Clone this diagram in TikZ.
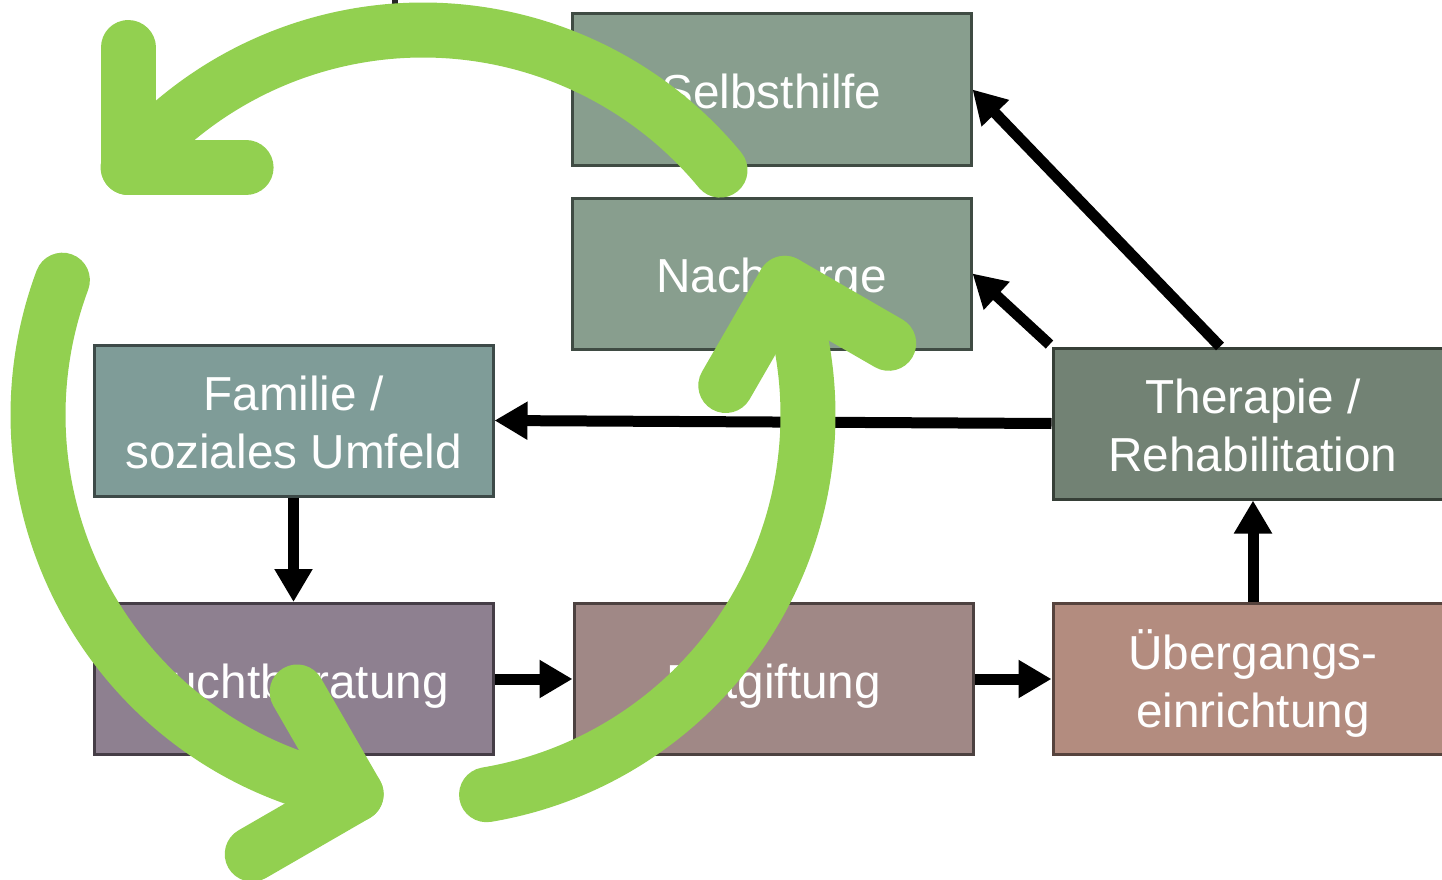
\documentclass[tikz,border=0pt]{standalone}
\usepackage{fontspec}
\setmainfont{Liberation Sans}
\usetikzlibrary{arrows.meta,calc}

\definecolor{cycgreen}{HTML}{92D050}
\definecolor{fillSelb}{HTML}{889E8E}\definecolor{lineSelb}{HTML}{3F4B43}
\definecolor{fillFam}{HTML}{7F9C98}\definecolor{lineFam}{HTML}{3D4A48}
\definecolor{fillTher}{HTML}{728274}\definecolor{lineTher}{HTML}{363F37}
\definecolor{fillSucht}{HTML}{8E8090}\definecolor{lineSucht}{HTML}{453D46}
\definecolor{fillEnt}{HTML}{A08886}\definecolor{lineEnt}{HTML}{4C4140}
\definecolor{fillUeb}{HTML}{B38C7F}\definecolor{lineUeb}{HTML}{56433D}

\tikzset{
  stage/.style={rectangle, draw, line width=3pt, minimum width=399pt,
    minimum height=151pt, inner sep=0pt},
  % text is placed by its last baseline
  caption/.style={inner sep=0pt, align=center, text=white,
    text height=0pt, text depth=0pt, font=\fontsize{47.7}{58}\selectfont},
  flow/.style={line width=11pt, -{Triangle[length=33pt,width=36pt]}},
  cyc/.style={draw=cycgreen, line width=55pt, line cap=round, line join=round}
}

\begin{document}
\begin{tikzpicture}[x=1pt,y=-1pt]
  \clip (0,0) rectangle (1442,880);
  \fill[white] (0,0) rectangle (1442,880);

  % stages of the care chain
  \node[stage, fill=fillSelb, draw=lineSelb]   (selb)  at (771.5,89.5)  {};
  \node[stage, fill=fillSelb, draw=lineSelb]   (nach)  at (771.5,273.5) {};
  \node[stage, fill=fillFam, draw=lineFam]     (fam)   at (293.5,420.5) {};
  \node[stage, fill=fillTher, draw=lineTher, minimum width=400pt] (ther) at (1253,423.5) {};
  \node[stage, fill=fillSucht, draw=lineSucht] (sucht) at (293.5,679)   {};
  \node[stage, fill=fillEnt, draw=lineEnt]     (ent)   at (773.5,679)   {};
  \node[stage, fill=fillUeb, draw=lineUeb, minimum width=400pt] (ueb) at (1253,679) {};

  % their captions
  \node[caption] (selbT)  at ($(selb.center)+(0,19)$)  {Selbsthilfe};
  \node[caption] (nachT)  at ($(nach.center)+(0,19)$)  {Nachsorge};
  \node[caption] (famT)   at ($(fam.center)+(0,48)$)   {Familie /\\soziales Umfeld};
  \node[caption] (therT)  at ($(ther.center)+(0,47.5)$) {Therapie /\\Rehabilitation};
  \node[caption] (suchtT) at ($(sucht.center)+(0,19)$) {Suchtberatung};
  \node[caption] (entT)   at ($(ent.center)+(0,19)$)   {Entgiftung};
  \node[caption] (uebT)   at ($(ueb.center)+(0,48)$)   {Übergangs-\\einrichtung};

  % connectors between the stages
  \draw[flow] ($(ther.north)+(-33,0)$) -- (selb.east);
  \draw[flow] ($(ther.north west)+(-2,-2)$) -- (nach.east);
  \draw[flow] (ther.west) -- (fam.east);
  \draw[flow] (fam.south) -- (sucht.north);
  \draw[flow] (sucht.east) -- (ent.west);
  \draw[flow] (ent.east) -- (ueb.west);
  \draw[flow] (ueb.north) -- (ther.south);

  % stub of a line entering from above
  \coordinate (stubA) at (395,-10);
  \coordinate (stubB) at (395,20);
  \draw[line width=6pt, black!85] (stubA) -- (stubB);

  % cycle of three curved arrows
  \coordinate (ctr) at (423,415);
  \foreach \k in {0,1,2} {
    \draw[cyc] ($(ctr)+(-39.5-120*\k:385)$)
      arc[start angle=-39.5-120*\k, end angle=-140-120*\k, radius=385];
    \coordinate (tip\k) at ($(ctr)+(-140-120*\k:385)$);
    \draw[cyc] ($(tip\k)+(-90-120*\k:120)$) -- (tip\k) -- ($(tip\k)+(-120*\k:118)$);
  }
\end{tikzpicture}
\end{document}
